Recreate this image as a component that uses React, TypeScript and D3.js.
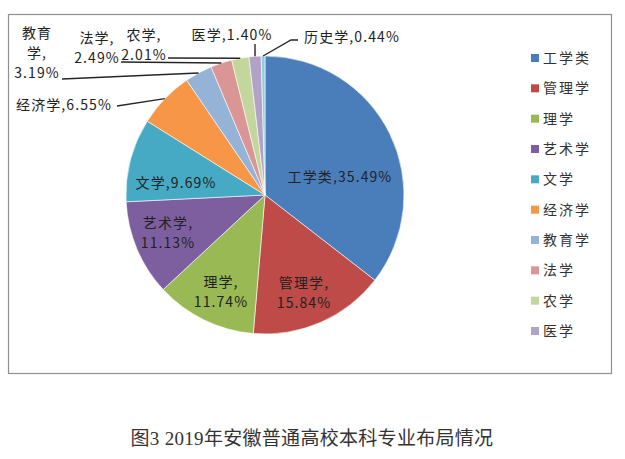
import React, { useEffect, useRef } from 'react';
import * as d3 from 'd3';

// 2019 Anhui undergraduate majors by discipline (%)
const categories = ['工学类', '管理学', '理学', '艺术学', '文学', '经济学', '教育学', '法学', '农学', '医学', '历史学'];
const shares = [35.49, 15.84, 11.74, 11.13, 9.69, 6.55, 3.19, 2.49, 2.01, 1.40, 0.44];
const colors = ['#4a7ebb', '#be4b48', '#98b954', '#7d5fa0', '#46aac5', '#f79646', '#95b3d7', '#d99694', '#c3d69b', '#b2a2c7', '#92cddc'];
const legendNames = categories.slice(0, 10);
const caption = '图3 2019年安徽普通高校本科专业布局情况';

type Slice = { name: string; value: number; color: string };

// where each data label sits (layout only)
const labelLayout: Record<string, { x: number; y: number; split?: number[]; lead?: [number, number][] }> = {
  工学类: { x: 340, y: 182 },
  管理学: { x: 304, y: 288, split: [4] },
  理学: { x: 221, y: 287, split: [3] },
  艺术学: { x: 168, y: 228, split: [4] },
  文学: { x: 176, y: 188 },
  经济学: { x: 64, y: 110, lead: [[117, 106]] },
  教育学: { x: 37, y: 38, split: [2, 4], lead: [[62, 79]] },
  法学: { x: 97, y: 43, split: [3], lead: [[121, 62]] },
  农学: { x: 144, y: 40, split: [3], lead: [[168, 58]] },
  医学: { x: 232, y: 40, lead: [[255, 44]] },
  历史学: { x: 352, y: 42, lead: [[291, 40], [298, 40]] },
};

const App: React.FC = () => {
  const ref = useRef<SVGSVGElement | null>(null);

  useEffect(() => {
    const svg = d3.select(ref.current);
    svg.selectAll('*').remove();

    const font = '"Noto Sans CJK SC", "Noto Sans", sans-serif';
    const cx = 265, cy = 195, radius = 139;

    const data: Slice[] = categories.map((c, i) => ({ name: c, value: shares[i], color: colors[i] }));

    svg.append('rect')
      .attr('x', 8.5).attr('y', 14.5)
      .attr('width', 603).attr('height', 359)
      .attr('fill', '#fff')
      .attr('stroke', '#8f8f8f')
      .attr('stroke-width', 1.2);

    const pie = d3.pie<Slice>().sort(null).value(d => d.value);
    const arcs = pie(data);
    const arc = d3.arc<d3.PieArcDatum<Slice>>().innerRadius(0).outerRadius(radius);
    const rim = d3.arc<d3.PieArcDatum<Slice>>().innerRadius(radius).outerRadius(radius);

    const g = svg.append('g').attr('transform', `translate(${cx},${cy})`);
    g.selectAll('path')
      .data(arcs)
      .enter().append('path')
      .attr('d', arc)
      .attr('fill', d => d.data.color)
      .attr('stroke', '#ffffff')
      .attr('stroke-width', 0.6);

    // data labels
    arcs.forEach(a => {
      const lay = labelLayout[a.data.name];
      const full = `${a.data.name},${a.data.value.toFixed(2)}%`;
      let lines = [full];
      if (lay.split) {
        lines = [];
        let prev = 0;
        lay.split.forEach(s => { lines.push(full.slice(prev, s)); prev = s; });
        lines.push(full.slice(prev));
      }
      const t = svg.append('text')
        .attr('x', lay.x).attr('y', lay.y)
        .attr('text-anchor', 'middle')
        .style('font-family', font)
        .style('font-size', '14px')
        .style('letter-spacing', '1.1px')
        .attr('fill', '#222');
      lines.forEach((l, i) => {
        t.append('tspan').attr('x', lay.x).attr('dy', i === 0 ? 0 : 20).text(l);
      });

      if (lay.lead) {
        const [px, py] = rim.centroid(a);
        const pts: [number, number][] = [[cx + px, cy + py], ...lay.lead];
        svg.append('path')
          .attr('d', d3.line()(pts))
          .attr('fill', 'none')
          .attr('stroke', '#262626')
          .attr('stroke-width', 1.4);
      }
    });

    // legend
    const legY = d3.scalePoint<string>().domain(legendNames).range([57, 330]);
    const leg = svg.append('g');
    legendNames.forEach((n, i) => {
      const y = legY(n)!;
      leg.append('rect')
        .attr('x', 531).attr('y', y - 3)
        .attr('width', 8).attr('height', 8)
        .attr('fill', colors[i]);
      leg.append('text')
        .attr('x', 543).attr('y', y + 6)
        .style('font-family', font)
        .style('font-size', '14px')
        .style('letter-spacing', '2px')
        .attr('fill', '#333')
        .text(n);
    });

    svg.append('text')
      .attr('x', 312).attr('y', 445)
      .attr('text-anchor', 'middle')
      .style('font-family', '"Liberation Serif", "Noto Sans CJK SC", serif')
      .style('font-size', '19px')
      .style('letter-spacing', '0.3px')
      .attr('fill', '#333')
      .text(caption);
  }, []);

  return (
    <svg ref={ref} width={625} height={459}
      style={{ position: 'absolute', left: 0, top: 0, background: '#fff' }} />
  );
};

export default App;
